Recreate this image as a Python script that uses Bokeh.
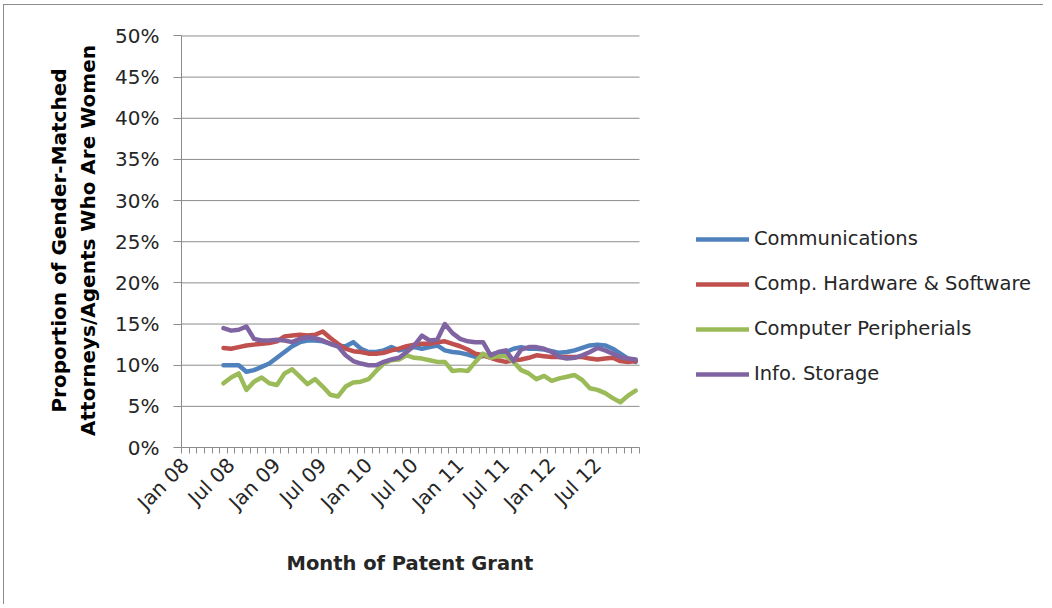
from math import pi
from bokeh.plotting import figure
from bokeh.models import Range1d, FixedTicker, Legend, LegendItem, PrintfTickFormatter, Title
from bokeh.embed import file_html
from bokeh.resources import INLINE

# ---- data ----
months = [f"{m} {y}" for y in ["08", "09", "10", "11", "12"]
          for m in ["Jan", "Feb", "Mar", "Apr", "May", "Jun",
                    "Jul", "Aug", "Sep", "Oct", "Nov", "Dec"]]
tick_labels = ["Jan 08", "Jul 08", "Jan 09", "Jul 09", "Jan 10",
               "Jul 10", "Jan 11", "Jul 11", "Jan 12", "Jul 12"]
first_month = "Jun 08"

communications = [10.0, 10.0, 10.0, 9.2, 9.4, 9.8, 10.2, 10.9, 11.6, 12.3,
                  12.8, 13.0, 13.0, 12.9, 12.6, 12.3, 12.3, 12.8, 12.0, 11.6,
                  11.6, 11.8, 12.2, 11.8, 12.0, 12.2, 12.0, 12.2, 12.4, 11.8,
                  11.6, 11.5, 11.3, 11.0, 11.1, 11.3, 11.5, 11.6, 12.0, 12.2,
                  12.0, 12.0, 11.9, 11.7, 11.5, 11.6, 11.8, 12.1, 12.4, 12.5,
                  12.4, 12.0, 11.4, 10.8, 10.4]
comp_hw_sw = [12.1, 12.0, 12.2, 12.4, 12.5, 12.6, 12.7, 12.9, 13.5, 13.6,
              13.7, 13.6, 13.7, 14.1, 13.3, 12.6, 12.0, 11.7, 11.6, 11.4,
              11.4, 11.5, 11.8, 12.0, 12.3, 12.5, 12.6, 12.6, 12.8, 12.9,
              12.6, 12.3, 11.9, 11.4, 11.2, 10.9, 10.6, 10.4, 10.6, 10.7,
              10.9, 11.2, 11.1, 11.0, 11.0, 11.0, 11.0, 11.0, 10.8, 10.7,
              10.8, 10.9, 10.5, 10.4, 10.5]
comp_periph = [7.8, 8.5, 9.0, 7.0, 8.0, 8.5, 7.8, 7.6, 9.0, 9.5,
               8.6, 7.7, 8.3, 7.4, 6.4, 6.2, 7.4, 7.9, 8.0, 8.3,
               9.3, 10.2, 10.6, 10.7, 11.2, 10.9, 10.8, 10.6, 10.4, 10.4,
               9.3, 9.4, 9.3, 10.4, 11.4, 10.9, 11.1, 11.1, 10.4, 9.4,
               9.0, 8.3, 8.7, 8.1, 8.4, 8.6, 8.8, 8.2, 7.2, 7.0,
               6.6, 6.0, 5.5, 6.3, 6.9]
info_storage = [14.5, 14.2, 14.3, 14.7, 13.2, 13.0, 13.0, 13.1, 13.0, 12.8,
                13.2, 13.4, 13.3, 13.0, 12.6, 12.3, 11.2, 10.5, 10.2, 10.0,
                10.0, 10.4, 10.7, 10.9, 11.6, 12.4, 13.6, 13.0, 13.1, 15.0,
                13.9, 13.2, 12.9, 12.8, 12.8, 11.2, 11.6, 11.8, 10.5, 11.9,
                12.2, 12.2, 12.0, 11.6, 11.0, 10.8, 10.9, 11.2, 11.6, 12.1,
                11.8, 11.4, 11.0, 10.8, 10.7]

series = [
    ("Communications", communications, "#4F81BD"),
    ("Comp. Hardware & Software", comp_hw_sw, "#C0504D"),
    ("Computer Peripherials", comp_periph, "#9BBB59"),
    ("Info. Storage", info_storage, "#8064A2"),
]
y_ticks = list(range(0, 51, 5))

FONT = "DejaVu Sans"
GRID = "#8c8c8c"
TEXT = "#262626"

# layout constants (pixels)
W, H = 1040, 600
LEFT, TOP = 177, 28
PLOT_W = 458          # width of the chart's plot area
FRAME_W = W - LEFT    # frame extends to the right so the legend is not clipped
FRAME_H = 414.5
BOTTOM = H - TOP - FRAME_H
y_top = 50.3
x_start = -0.5
x_end = x_start + len(months) * FRAME_W / PLOT_W

p = figure(width=W, height=H, output_backend="svg", toolbar_location=None,
           x_range=Range1d(x_start, x_end), y_range=Range1d(0, y_top),
           min_border_left=LEFT, min_border_right=0, min_border_top=TOP,
           min_border_bottom=int(round(BOTTOM)))
p.styles = {"margin-left": "3px", "margin-top": "4px",
            "border-left": "1px solid #8c8c8c", "border-top": "1px solid #8c8c8c"}
p.outline_line_color = None
p.background_fill_color = "white"
p.border_fill_color = "white"
p.xgrid.visible = False
p.ygrid.visible = False

# horizontal gridlines limited to the category span
p.segment(x0=[x_start] * len(y_ticks), x1=[len(months) - 0.5] * len(y_ticks),
          y0=y_ticks, y1=y_ticks, line_color=GRID, line_width=1)

start = months.index(first_month)
renderers = []
for name, vals, color in series:
    xs = list(range(start, start + len(vals)))
    r = p.line(xs, vals, line_color=color, line_width=4.5,
               line_join="round", line_cap="round")
    renderers.append((name, r))

# y axis
ya = p.yaxis[0]
ya.ticker = FixedTicker(ticks=y_ticks)
ya.bounds = (0, 50)
ya.formatter = PrintfTickFormatter(format="%d%%")
ya.axis_line_color = GRID
ya.major_tick_line_color = GRID
ya.major_tick_out = 8
ya.major_tick_in = 0
ya.minor_tick_out = 0
ya.minor_tick_in = 0
ya.major_label_standoff = 14
ya.major_label_text_font = FONT
ya.major_label_text_font_size = "20px"
ya.major_label_text_color = TEXT
ya.axis_label = "Proportion of Gender-Matched\nAttorneys/Agents Who Are Women"
ya.axis_label_text_font = FONT
ya.axis_label_text_font_style = "bold"
ya.axis_label_text_font_size = "20px"
ya.axis_label_text_color = "black"
ya.axis_label_standoff = 12

# x axis
label_idx = [months.index(t) for t in tick_labels]
xa = p.xaxis[0]
xa.bounds = (x_start, len(months) - 0.5)
xa.ticker = FixedTicker(ticks=label_idx,
                        minor_ticks=[i - 0.5 for i in range(len(months) + 1)])
xa.major_label_overrides = {i: t for i, t in zip(label_idx, tick_labels)}
xa.axis_line_color = GRID
xa.major_tick_out = 0
xa.major_tick_in = 0
xa.minor_tick_line_color = GRID
xa.minor_tick_out = 6
xa.minor_tick_in = 0
xa.major_label_orientation = pi / 4
xa.major_label_standoff = 8
xa.major_label_text_font = FONT
xa.major_label_text_font_size = "20px"
xa.major_label_text_color = TEXT

# x axis title, centred under the plot area (not the extended frame)
p.add_layout(Title(text="Month of Patent Grant", align="left", offset=105,
                   standoff=49, text_font=FONT, text_font_style="bold",
                   text_font_size="19.5px", text_color=TEXT), "below")

legend = Legend(items=[LegendItem(label=n, renderers=[r]) for n, r in renderers],
                location=(515, 62), glyph_width=53, glyph_height=20,
                label_height=20, spacing=22, label_standoff=5, padding=0,
                margin=0, border_line_color=None, background_fill_alpha=0,
                label_text_font=FONT, label_text_font_size="19.5px",
                label_text_color=TEXT)
p.add_layout(legend)

open("out.html", "w").write(file_html(p, INLINE))
